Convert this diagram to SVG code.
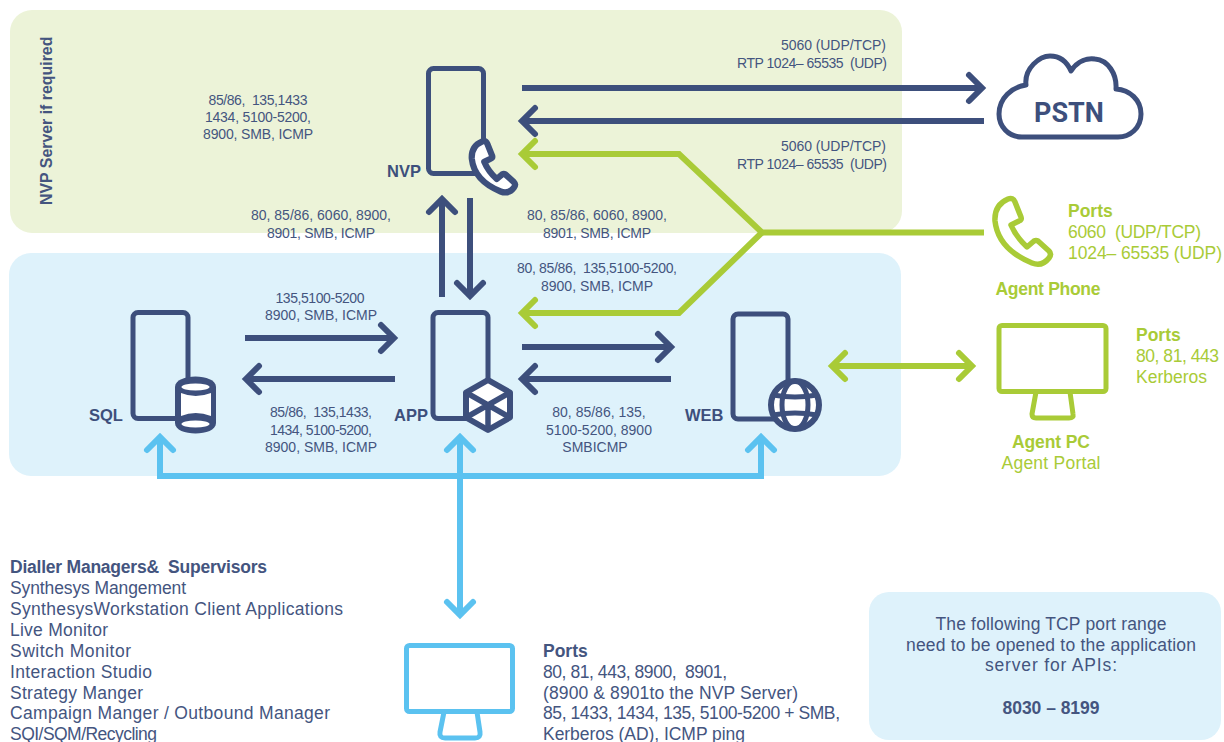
<svg xmlns="http://www.w3.org/2000/svg" width="1224" height="742" viewBox="0 0 1224 742">
<style>
text{font-family:"Liberation Sans",Arial,sans-serif;fill:#44557f;font-size:14px;white-space:pre}
.c{text-anchor:middle}
.b{font-weight:700}
.n{font-weight:700;font-size:16.5px;fill:#3d4f7c}
.l{font-size:17.500px}
.gl{fill:#a9cb37;font-size:17.500px}
.srv{fill:none;stroke:#3d4f7c;stroke-width:5;stroke-linejoin:round}
.ic{fill:#fff;stroke:#3d4f7c;stroke-width:5;stroke-linejoin:round}
.nv,.gr,.bl{fill:none;stroke-width:6}
.nv{stroke:#3d4f7c;marker-end:url(#mn)}
.gr{stroke:#a9cb37;marker-end:url(#mg)}
.bl{stroke:#5bc2f0;marker-end:url(#mb)}
.h{fill:none;stroke-width:6;stroke-linecap:round;stroke-linejoin:miter}
</style>
<defs>
<marker id="mn" markerUnits="userSpaceOnUse" overflow="visible" orient="auto-start-reverse" markerWidth="30" markerHeight="30"><path class="h" stroke="#3d4f7c" d="M-13 -13L0 0L-13 13"/></marker>
<marker id="mg" markerUnits="userSpaceOnUse" overflow="visible" orient="auto-start-reverse" markerWidth="30" markerHeight="30"><path class="h" stroke="#a9cb37" d="M-13 -13L0 0L-13 13"/></marker>
<marker id="mb" markerUnits="userSpaceOnUse" overflow="visible" orient="auto-start-reverse" markerWidth="30" markerHeight="30"><path class="h" stroke="#5bc2f0" d="M-13 -13L0 0L-13 13"/></marker>
</defs>
<rect width="1224" height="742" fill="#fff"/>
<g id="zones">
<rect x="10" y="10" width="892" height="223" rx="22" fill="#ecf3d8"/>
<rect x="9" y="253" width="892" height="223" rx="22" fill="#def2fb"/>
<rect x="869" y="592" width="352" height="148" rx="20" fill="#def2fb"/>
</g>
<g id="connectors">
<path class="nv" d="M522 88H982"/>
<path class="nv" d="M984 121H522"/>
<path class="gr" d="M984 232.500H762L679 154H522"/>
<path class="gr" d="M762 232.500L679 313H522"/>
<path class="nv" d="M442 297V199"/>
<path class="nv" d="M470 198V296"/>
<path class="nv" d="M245 338H394"/>
<path class="nv" d="M395 379H246"/>
<path class="nv" d="M522 347H671"/>
<path class="nv" d="M671 379H522"/>
<path class="gr" style="marker-start:url(#mg)" d="M832 366H972"/>
<path class="bl" d="M160 476V437"/>
<path class="bl" d="M460 476V437"/>
<path class="bl" d="M761 476V437"/>
<path fill="none" stroke="#5bc2f0" stroke-width="6" d="M157 476H764"/>
<path class="bl" d="M460 476V615"/>
</g>
<g id="labels">
<text class="c" x="258" y="105" textLength="99">85/86,  135,1433</text>
<text class="c" x="258" y="122" textLength="106">1434, 5100-5200,</text>
<text class="c" x="258" y="139" textLength="110">8900, SMB, ICMP</text>
<text x="781" y="50" textLength="105">5060 (UDP/TCP)</text>
<text x="737" y="68" textLength="150">RTP 1024– 65535  (UDP)</text>
<text x="781" y="151" textLength="105">5060 (UDP/TCP)</text>
<text x="737" y="169" textLength="150">RTP 1024– 65535  (UDP)</text>
<text class="c" x="321" y="220" textLength="140">80, 85/86, 6060, 8900,</text>
<text class="c" x="321" y="238" textLength="108">8901, SMB, ICMP</text>
<text class="c" x="597" y="220" textLength="140">80, 85/86, 6060, 8900,</text>
<text class="c" x="597" y="238" textLength="108">8901, SMB, ICMP</text>
<text class="c" x="597" y="273" textLength="160">80, 85/86,  135,5100-5200,</text>
<text class="c" x="597" y="291" textLength="112">8900, SMB, ICMP</text>
<text class="c" x="320" y="303" textLength="89">135,5100-5200</text>
<text class="c" x="321" y="320" textLength="112">8900, SMB, ICMP</text>
<text class="c" x="321" y="417" textLength="102">85/86,  135,1433,</text>
<text class="c" x="321" y="435" textLength="102">1434, 5100-5200,</text>
<text class="c" x="321" y="452" textLength="112">8900, SMB, ICMP</text>
<text class="c" x="599" y="417">80, 85/86, 135,</text>
<text class="c" x="599" y="435">5100-5200, 8900</text>
<text class="c" x="595" y="452">SMBICMP</text>
<text class="b" style="font-size:15.900px" transform="translate(52 205) rotate(-90)">NVP Server if required</text>
</g>
<g id="nvp">
<rect class="srv" x="428.500" y="68.500" width="55" height="105" rx="5"/>
<path class="ic" transform="translate(471 140) scale(.78)" style="stroke-width:8" d="M14 2Q19 0 21 5L27 20Q28 23 25 24L17 28Q22 40 33 50L40 44Q42 43 44 44L55 54Q58 57 55 61Q48 70 38 66Q4 52 1 24Q0 8 14 2Z"/>
<text class="n" x="387" y="177">NVP</text>
</g>
<g id="sql">
<rect class="srv" x="133" y="312.500" width="55" height="106" rx="5"/>
<path fill="#3d4f7c" d="M175 387C175 373 216 373 216 387V423C216 437 175 437 175 423Z"/>
<ellipse cx="195.500" cy="387" rx="14" ry="3.500" fill="#fff"/>
<ellipse cx="195.500" cy="424" rx="14" ry="3.500" fill="#fff"/>
<path fill="#fff" d="M181 393Q195.500 399 211 393V416Q195.500 410 181 416Z"/>
<text class="n" x="89" y="421">SQL</text>
</g>
<g id="app">
<rect class="srv" x="433" y="312.500" width="55" height="106" rx="5"/>
<path class="ic" style="stroke-width:6" d="M488 380L510 392.500V417.500L488 430L466 417.500V392.500Z"/>
<path class="srv" style="stroke-width:5.500" d="M466 392.500L510 417.500M510 392.500L466 417.500M488 405V430"/>
<text class="n" x="394" y="421">APP</text>
</g>
<g id="web">
<rect class="srv" x="733" y="314" width="55" height="105" rx="5"/>
<circle cx="795" cy="405" r="24" fill="#fff" stroke="#3d4f7c" stroke-width="6"/>
<ellipse class="srv" cx="795" cy="405" rx="13" ry="24"/>
<path class="srv" d="M773 395Q795 399 817 395M773 415Q795 411 817 415"/>
<text class="n" x="685" y="421">WEB</text>
</g>
<g id="pstn">
<path class="srv" d="M1026 85C1024 68 1040 56 1050 56C1060 56 1067 62 1071 71C1078 60 1088 58 1095 59C1108 60 1117 74 1116 89C1130 90 1141 100 1141 114C1141 128 1130 137 1118 137L1022 137C1008 137 999 126 999 114C999 98 1012 87 1026 85Z"/>
<text class="c" x="1069" y="122" style="font-family:Roboto,sans-serif;font-weight:700;font-size:27px;fill:#3d4f7c">PSTN</text>
</g>
<g id="agent-phone">
<path transform="translate(994 197)" fill="none" stroke="#a9cb37" stroke-width="5.500" stroke-linejoin="round" d="M14 2Q19 0 21 5L27 20Q28 23 25 24L17 28Q22 40 33 50L40 44Q42 43 44 44L55 54Q58 57 55 61Q48 70 38 66Q4 52 1 24Q0 8 14 2Z"/>
<text class="gl b" x="1068" y="217">Ports</text>
<text class="gl" x="1068" y="238" textLength="133">6060  (UDP/TCP)</text>
<text class="gl" x="1068" y="259" textLength="154">1024– 65535 (UDP)</text>
<text class="gl b c" x="1048" y="295" textLength="105">Agent Phone</text>
</g>
<g id="agent-pc">
<rect x="999" y="325.500" width="107" height="66" rx="3" fill="none" stroke="#a9cb37" stroke-width="5" stroke-linejoin="round"/>
<path fill="none" stroke="#a9cb37" stroke-width="5" stroke-linejoin="round" d="M1036 392L1032 414Q1032 418 1036 418H1069Q1074 418 1073 414L1070 392"/>
<text class="gl b" x="1136" y="341">Ports</text>
<text class="gl" x="1136" y="362" textLength="83">80, 81, 443</text>
<text class="gl" x="1136" y="383" textLength="71">Kerberos</text>
<text class="gl b c" x="1051" y="448" textLength="78">Agent PC</text>
<text class="gl c" x="1051" y="469" textLength="99">Agent Portal</text>
</g>
<g id="client-pc">
<rect x="406.500" y="645.500" width="106" height="66" rx="3" fill="none" stroke="#5bc2f0" stroke-width="5" stroke-linejoin="round"/>
<path fill="none" stroke="#5bc2f0" stroke-width="5" stroke-linejoin="round" d="M444 712L440 732Q439 738 445 738H475Q481 738 480 732L477 712"/>
<text class="l b" x="543" y="657">Ports</text>
<text class="l" x="543" y="678" textLength="184">80, 81, 443, 8900,  8901,</text>
<text class="l" x="543" y="699" textLength="255">(8900 &amp; 8901to the NVP Server)</text>
<text class="l" x="543" y="719" textLength="297">85, 1433, 1434, 135, 5100-5200 + SMB,</text>
<text class="l" x="543" y="740" textLength="202">Kerberos (AD), ICMP ping</text>
</g>
<g id="managers">
<text class="l b" x="10" y="573" textLength="257">Dialler Managers&amp;  Supervisors</text>
<text class="l" x="10" y="594" textLength="176">Synthesys Mangement</text>
<text class="l" x="10" y="615" textLength="333">SynthesysWorkstation Client Applications</text>
<text class="l" x="10" y="636" textLength="98">Live Monitor</text>
<text class="l" x="10" y="657" textLength="121">Switch Monitor</text>
<text class="l" x="10" y="678" textLength="142">Interaction Studio</text>
<text class="l" x="10" y="699" textLength="133">Strategy Manger</text>
<text class="l" x="10" y="719" textLength="320">Campaign Manger / Outbound Manager</text>
<text class="l" x="10" y="740" textLength="147">SQI/SQM/Recycling</text>
</g>
<g id="api-note">
<text class="l c" x="1051" y="630" textLength="231">The following TCP port range</text>
<text class="l c" x="1051" y="651" textLength="290">need to be opened to the application</text>
<text class="l c" x="1051" y="671" textLength="132">server for APIs:</text>
<text class="l b c" x="1051" y="714" textLength="97">8030 – 8199</text>
</g>
</svg>
